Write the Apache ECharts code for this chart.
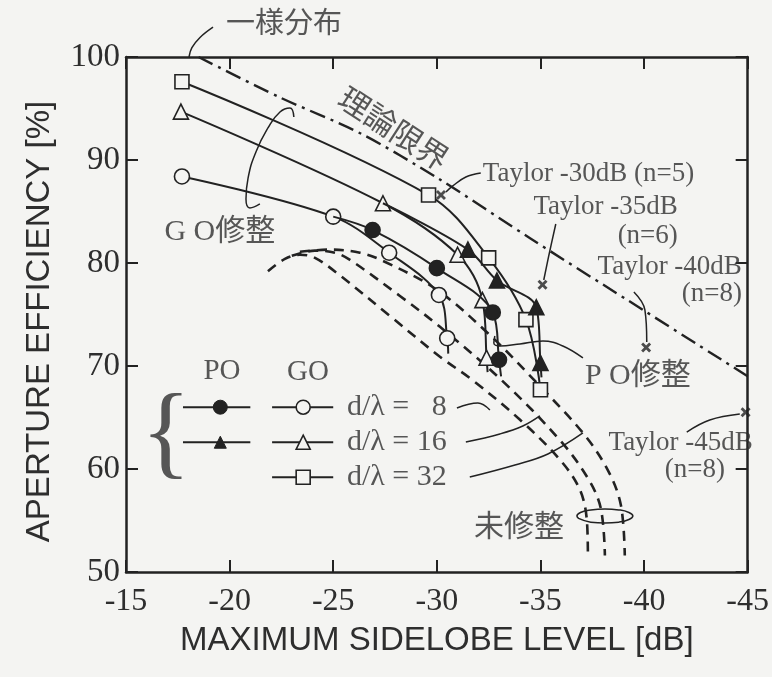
<!DOCTYPE html>
<html><head><meta charset="utf-8">
<script src="https://cdn.jsdelivr.net/npm/echarts@6/dist/echarts.min.js"></script>
<style>html,body{margin:0;padding:0;background:#f4f4f2}#c{width:772px;height:677px}</style>
</head><body><div id="c"></div>
<script>
// ---- axis ticks ----
const xTickLabels = [-15, -20, -25, -30, -35, -40, -45];
const yTickLabels = [50, 60, 70, 80, 90, 100];

// ---- GO / PO modified curves [sidelobe dB, efficiency %] ----
const goD8 = [[-17.7, 88.4], [-25.0, 84.5], [-27.7, 81.0], [-30.1, 76.9], [-30.5, 72.7]];
const goD8Tail = [-30.55, 71.2];
const poD8Branch = [-25.0, 84.5];
const poD8 = [[-26.9, 83.2], [-30.0, 79.5], [-32.7, 75.2], [-33.0, 70.6]];
const poD8Tail = [-33.1, 69.0];
const goD16 = [[-17.65, 94.7], [-27.4, 85.8], [-31.0, 80.8], [-32.2, 76.4], [-32.4, 70.8]];
const goD16Tail = [-32.45, 69.4];
const poD16Branch = [-27.4, 85.8];
const poD16 = [[-31.5, 81.3], [-32.9, 78.3], [-34.8, 75.7], [-35.0, 70.3]];
const poD16Tail = [-35.05, 68.9];
const goD32 = [[-17.7, 97.6], [-29.6, 86.6], [-32.5, 80.5], [-34.3, 74.5], [-35.0, 67.7]];

// ---- unmodified (未修整) dashed curves ----
const rawD8 = [[-21.85, 79.2], [-22.67, 80.4], [-23.39, 80.8], [-24.12, 80.5], [-25.32, 78.8], [-27.74, 74.85], [-30.15, 70.9], [-31.74, 68.6], [-34.0, 64.8], [-35.94, 60.9], [-36.9, 58.0], [-37.24, 55.0], [-37.29, 51.6]];
const rawD16 = [[-23.0, 80.7], [-24.12, 81.2], [-25.08, 81.0], [-25.81, 80.3], [-28.22, 76.8], [-30.15, 73.8], [-33.14, 68.6], [-35.94, 62.8], [-37.29, 59.1], [-37.91, 56.2], [-38.11, 51.6]];
const rawD32 = [[-23.39, 81.1], [-24.84, 81.3], [-26.29, 81.0], [-27.4, 80.2], [-30.0, 77.4], [-32.56, 73.0], [-34.83, 68.35], [-37.05, 63.5], [-38.25, 59.9], [-38.88, 56.5], [-39.07, 51.6]];

// ---- theoretical limit (理論限界) ----
const limitCurve = [[-18.5, 100], [-22.4, 96.1], [-26.3, 92.6], [-30.15, 88.1], [-34.5, 82.4], [-39.2, 76.4], [-45, 69.0]];

// ---- Taylor distributions ----
const taylorDb = [-30.2, -35.1, -40.1, -44.9];
const taylorEff = [86.6, 77.9, 71.8, 65.5];

// ---- leader / bracket paths (data coordinates) ----
const leaderUniform = [[-19.2, 102.9], [-18.57, 101.9], [-18.18, 100.9], [-18.04, 100.0]];
const leaderT30 = [[-32.12, 88.74], [-31.4, 88.35], [-30.77, 87.48], [-30.44, 86.89]];
const leaderT35 = [[-35.74, 83.79], [-35.41, 80.78], [-35.16, 78.35]];
const leaderT40 = [[-39.51, 77.18], [-40.04, 75.44], [-40.13, 72.33]];
const leaderT45 = [[-42.06, 63.59], [-43.17, 64.76], [-44.62, 65.34]];
const leaderPO = [[-37.05, 70.78], [-36.08, 71.94], [-35.12, 72.43], [-34.01, 72.14], [-33.04, 71.94], [-32.75, 72.23], [-32.8, 72.91]];
const leaderL8 = [[-30.97, 65.92], [-31.98, 66.41], [-32.56, 65.73]];
const leaderL16 = [[-31.4, 62.62], [-33.04, 63.4], [-34.15, 64.17], [-34.97, 65.15]];
const leaderL32 = [[-31.59, 59.22], [-33.77, 60.39], [-35.36, 61.46], [-37.05, 63.5]];
const loopGO = [[-23.1, 94.17], [-22.91, 95.05], [-22.43, 94.66], [-21.85, 93.11], [-21.27, 90.78], [-20.89, 88.25], [-20.79, 86.21], [-20.98, 85.34], [-21.46, 85.73]];
const loopRaw = [[-36.84, 55.2], [-37.43, 54.84], [-38.11, 54.76], [-38.78, 54.84], [-39.27, 55.1], [-39.46, 55.44], [-39.27, 55.78], [-38.78, 56.03], [-38.11, 56.12], [-37.43, 56.03], [-36.93, 55.78], [-36.76, 55.44], [-36.84, 55.2]];

// ---- legend block ----
const legendRowEff = [66.0, 62.6, 59.2];
const legendPoX = [-17.75, -19.55, -21.0];
const legendGoX = [-22.05, -23.55, -25.0];
const legendTexts = ['d/λ = \u20078', 'd/λ = 16', 'd/λ = 32'];
const legendTextX = -25.66;

// ---- annotation texts ----
const annoTexts = ['一様分布', '理論限界', 'Taylor -30dB (n=5)', 'Taylor -35dB', '(n=6)', 'Taylor -40dB', '(n=8)', 'Taylor -45dB', '(n=8)', 'P O修整', 'G O修整', '未修整', 'PO', 'GO', '{'];
const annoAt = [[-22.62, 103.1], [-27.83, 92.8], [-32.22, 88.64], [-41.63, 85.44], [-41.63, 82.62], [-44.72, 79.61], [-44.72, 76.99], [-45.25, 62.52], [-43.9, 59.9], [-39.7, 69.03], [-19.53, 83.0], [-33.96, 54.27], [-19.63, 69.5], [-23.78, 69.4], [-16.93, 63.0]];

const BG = '#f4f4f2', INK = '#222222', TXT = '#2e2e2e';
const SERIF = "'Liberation Serif','Noto Sans CJK JP',serif";
const annoStyle = [
  {size: 29, align: 'center'},
  {size: 31, align: 'center', rotate: -33},
  {size: 27, align: 'left'},
  {size: 27, align: 'right'},
  {size: 27, align: 'right'},
  {size: 27, align: 'right'},
  {size: 27, align: 'right'},
  {size: 27, align: 'right'},
  {size: 27, align: 'right'},
  {size: 30, align: 'center'},
  {size: 30, align: 'center'},
  {size: 30, align: 'center'},
  {size: 29, align: 'center'},
  {size: 29, align: 'center'},
  {size: 104, align: 'center'}
];

const chart = echarts.init(document.getElementById('c'));
const pt = (v) => ({value: v, symbol: 'none'});

function curve(name, pts, symbol, filled, extraStart, tail) {
  let data = [];
  if (extraStart) data.push({value: extraStart, symbol: 'none'});
  pts.forEach(p => data.push({value: p}));
  if (tail) data.push({value: tail, symbol: 'none'});
  return {
    name, type: 'line', data, smooth: 0.35, symbol, symbolSize: symbol === 'rect' ? 14 : 15,
    lineStyle: {color: INK, width: 2}, z: filled ? 6 : 5,
    itemStyle: {color: filled ? INK : BG, borderColor: INK, borderWidth: 1.6, opacity: 1},
    emphasis: {disabled: true}, animation: false
  };
}
function path(pts, opts) {
  return Object.assign({type: 'line', data: pts, symbol: 'none', smooth: 0.4, clip: false,
    lineStyle: {color: INK, width: 1.5}, animation: false, silent: true, z: 3}, opts || {});
}

const series = [];
[rawD8, rawD16, rawD32].forEach(c => series.push(path(c, {smooth: 0.35, lineStyle: {color: INK, width: 2.6, type: [10, 7]}, z: 2})));
series.push(path(limitCurve, {smooth: 0.3, lineStyle: {color: INK, width: 2.4, type: [16, 6, 3, 6]}, z: 2}));
series.push(curve('GO8', goD8, 'circle', false, null, goD8Tail));
series.push(curve('PO8', poD8, 'circle', true, poD8Branch, poD8Tail));
series.push(curve('GO16', goD16, 'triangle', false, null, goD16Tail));
series.push(curve('PO16', poD16, 'triangle', true, poD16Branch, poD16Tail));
series.push(curve('GO32', goD32, 'rect', false, null, null));
series.push({type: 'scatter', data: taylorDb.map((d, i) => [d, taylorEff[i]]), symbol: 'path://M2,0L5,3L8,0L10,2L7,5L10,8L8,10L5,7L2,10L0,8L3,5L0,2Z', symbolSize: 10, itemStyle: {color: INK}, z: 7, animation: false, silent: true});
[leaderUniform, leaderT30, leaderT35, leaderT40, leaderT45, leaderPO, leaderL8, leaderL16, leaderL32].forEach(l => series.push(path(l)));
series.push(path(loopGO, {smooth: 0.5}));
series.push(path(loopRaw, {smooth: 0.5}));
const legSym = ['circle', 'triangle', 'rect'];
legendRowEff.forEach((y, i) => {
  if (i < 2) {
    series.push({type: 'line', data: [pt([legendPoX[0], y]), {value: [legendPoX[1], y]}, pt([legendPoX[2], y])], symbol: legSym[i], symbolSize: i === 1 ? 12 : 14,
      lineStyle: {color: INK, width: 2}, itemStyle: {color: INK, borderColor: INK}, animation: false, silent: true, clip: false});
  }
  series.push({type: 'line', data: [pt([legendGoX[0], y]), {value: [legendGoX[1], y]}, pt([legendGoX[2], y])], symbol: legSym[i], symbolSize: 14,
    lineStyle: {color: INK, width: 2}, itemStyle: {color: BG, borderColor: INK, borderWidth: 1.6}, animation: false, silent: true, clip: false});
});
series.push({type: 'scatter', symbolSize: 0, silent: true, animation: false, clip: false,
  data: legendTexts.map((t, i) => ({value: [legendTextX, legendRowEff[i]], label: {show: true, formatter: t, position: 'inside', align: 'left', verticalAlign: 'middle', fontFamily: SERIF, fontSize: 30, color: TXT}}))});
series.push({type: 'scatter', symbolSize: 0, silent: true, animation: false, clip: false, z: 8,
  data: annoTexts.map((t, i) => ({value: annoAt[i], label: {show: true, formatter: t, position: 'inside', align: annoStyle[i].align, verticalAlign: 'middle',
    rotate: annoStyle[i].rotate || 0, fontFamily: SERIF, fontSize: annoStyle[i].size, color: TXT}}))});

const axisCommon = {type: 'value', splitLine: {show: false}, axisLine: {show: true, onZero: false, lineStyle: {color: INK, width: 2.5}},
  axisTick: {show: true, inside: true, length: 12, lineStyle: {color: INK, width: 2}}};

chart.setOption({
  backgroundColor: BG,
  animation: false,
  grid: {left: 126, right: 24, top: 57, bottom: 105, containLabel: false},
  xAxis: [
    Object.assign({}, axisCommon, {min: -45, max: -15, interval: 5, inverse: true, position: 'bottom',
      axisLabel: {margin: 14, fontFamily: SERIF, fontSize: 32, color: TXT, formatter: v => xTickLabels.includes(v) ? String(v) : ''},
      name: 'MAXIMUM SIDELOBE LEVEL [dB]', nameLocation: 'middle', nameGap: 52,
      nameTextStyle: {fontFamily: "'Liberation Sans',Arial,sans-serif", fontSize: 33, color: TXT}}),
    Object.assign({}, axisCommon, {min: -45, max: -15, interval: 5, inverse: true, position: 'top', axisLabel: {show: false}})
  ],
  yAxis: [
    Object.assign({}, axisCommon, {min: 50, max: 100, interval: 10, position: 'left',
      axisLabel: {margin: 6, fontFamily: SERIF, fontSize: 33, color: TXT, formatter: v => yTickLabels.includes(v) ? String(v) : ''},
      name: 'APERTURE EFFICIENCY [%]', nameLocation: 'middle', nameGap: 70, nameRotate: 90,
      nameTextStyle: {fontFamily: "'Liberation Sans',Arial,sans-serif", fontSize: 33, color: TXT, padding: [0, 14, 0, 0]}}),
    Object.assign({}, axisCommon, {min: 50, max: 100, interval: 10, position: 'right', axisLabel: {show: false}})
  ],
  series
});
</script></body></html>
